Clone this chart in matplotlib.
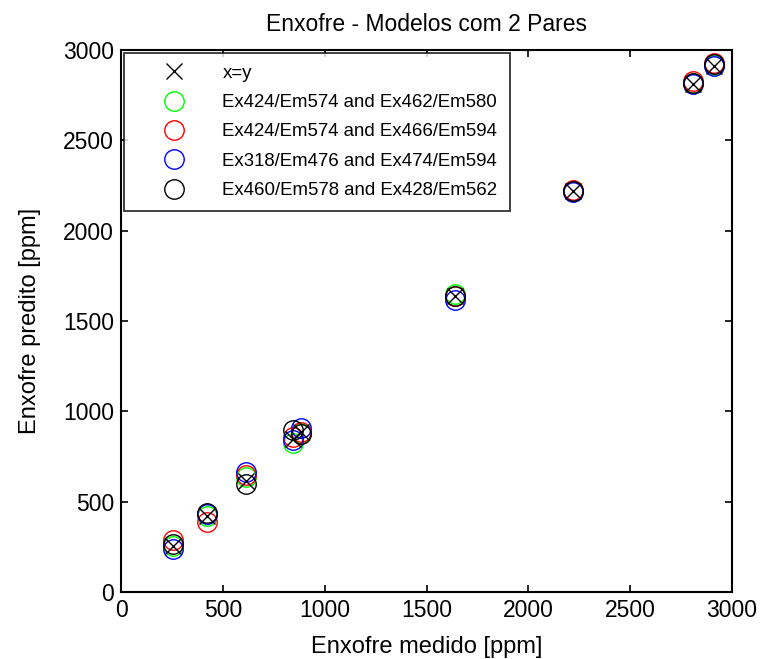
import matplotlib
matplotlib.use('Agg')
import matplotlib.pyplot as plt

plt.rcParams['font.family'] = ['Liberation Sans', 'DejaVu Sans']

# enxofre medido (referencia)
medido = [255, 420, 615, 845, 885, 1640, 2220, 2810, 2910]

# enxofre predito por cada modelo de 2 pares
pred_green = [255, 420, 635, 825, 880, 1650, 2220, 2815, 2915]
pred_red = [285, 390, 645, 860, 885, 1640, 2225, 2830, 2930]
pred_blue = [240, 430, 665, 840, 910, 1615, 2215, 2810, 2910]
pred_black = [265, 435, 595, 895, 875, 1640, 2220, 2815, 2920]

labels = ['Ex424/Em574 and Ex462/Em580',
          'Ex424/Em574 and Ex466/Em594',
          'Ex318/Em476 and Ex474/Em594',
          'Ex460/Em578 and Ex428/Em562']
cores = ['#00ff00', '#ff0000', '#0000ff', '#000000']

fig = plt.figure(figsize=(7.63, 6.59), dpi=100)
ax = fig.add_axes([0.1586, 0.1017, 0.8008, 0.8225])

ax.plot(medido, medido, 'x', color='k', markersize=11, markeredgewidth=1.0,
        label='x=y', zorder=5)
for pred, c, lab in zip([pred_green, pred_red, pred_blue, pred_black], cores, labels):
    ax.plot(medido, pred, 'o', markerfacecolor='none', markeredgecolor=c,
            markersize=14, markeredgewidth=1.0, label=lab)

ax.set_xlim(0, 3000)
ax.set_ylim(0, 3000)
ax.set_xticks([0, 500, 1000, 1500, 2000, 2500, 3000])
ax.set_yticks([0, 500, 1000, 1500, 2000, 2500, 3000])
ax.tick_params(direction='in', top=True, right=True, length=5, width=1.2,
               labelsize=16.5, pad=5)
for s in ax.spines.values():
    s.set_linewidth(1.5)

ax.set_title('Enxofre - Modelos com 2 Pares', fontsize=16.5, pad=14)
ax.set_xlabel('Enxofre medido [ppm]', fontsize=17, labelpad=10)
ax.set_ylabel('Enxofre predito [ppm]', fontsize=17, labelpad=16)

leg = ax.legend(loc='upper left', fontsize=13.4, frameon=True, fancybox=False,
                edgecolor='k', borderaxespad=0.15, handletextpad=0.55,
                handlelength=4.1, labelspacing=0.66, borderpad=0.65)
leg.get_frame().set_linewidth(1.3)

fig.savefig('out.png', dpi=100)
